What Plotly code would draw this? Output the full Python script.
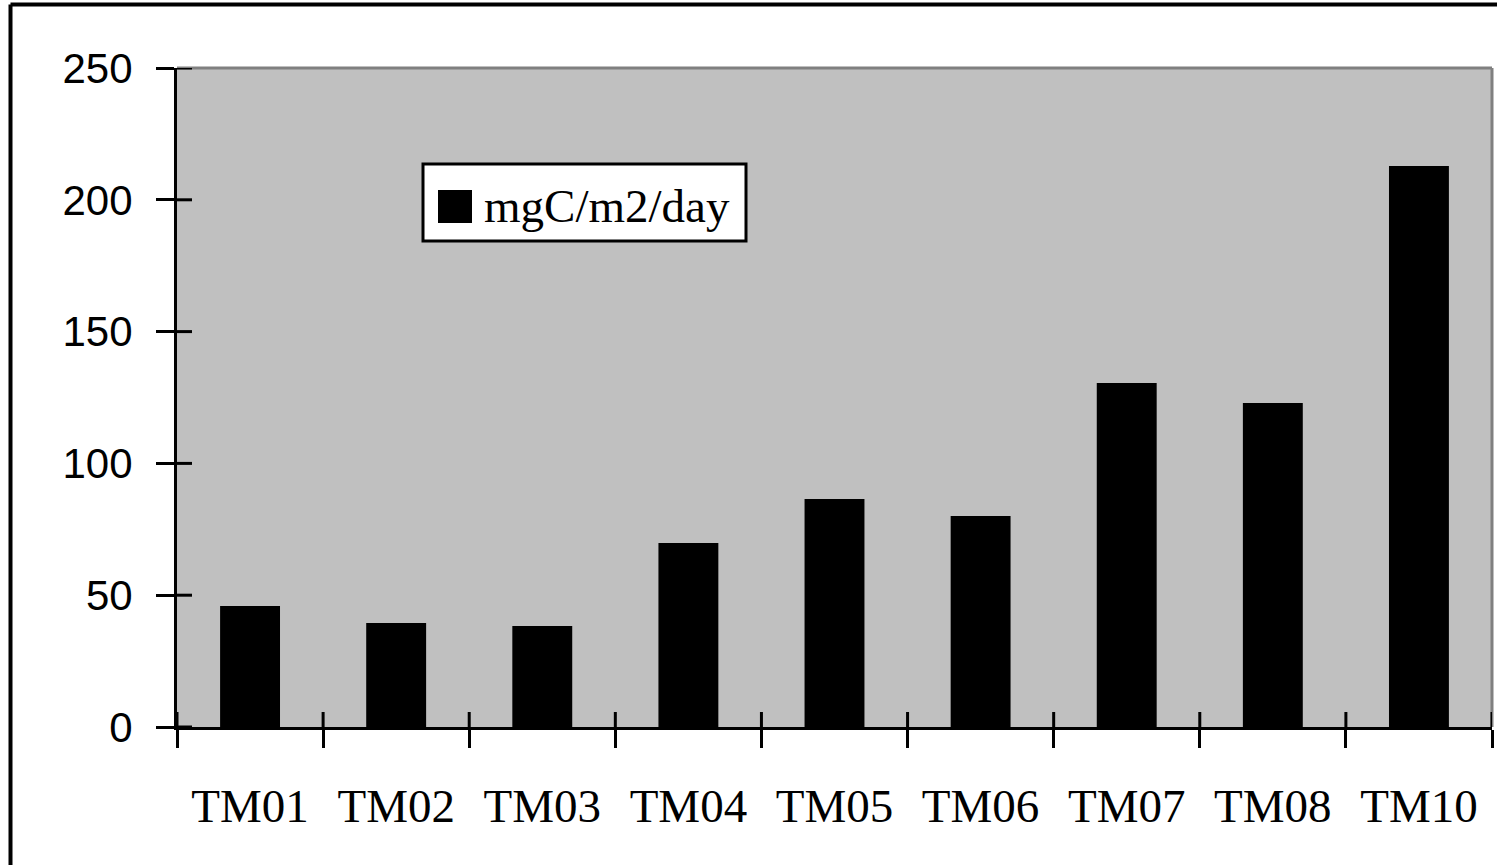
import plotly.graph_objects as go

# Station labels and daily production values
stations = ["TM01", "TM02", "TM03", "TM04", "TM05", "TM06", "TM07", "TM08", "TM10"]
production = [45.9, 39.5, 38.3, 69.8, 86.5, 80.0, 130.5, 122.9, 212.8]
series_name = "mgC/m2/day"
y_ticks = [0, 50, 100, 150, 200, 250]

W, H = 1497, 865
L, R, T, B = 177, 1492, 68, 727  # plot area in pixels
INNER_TICK = 15                  # length of the tick part inside the plot


def px(x):
    return (x - L) / (R - L)


def py(y):
    return (B - y) / (B - T)


fig = go.Figure()
fig.add_trace(go.Bar(
    x=stations, y=production, name=series_name,
    marker=dict(color="#000000", line=dict(width=0)),
    showlegend=False,
))

serif = "Liberation Serif, Times New Roman, serif"
sans = "Liberation Sans Narrow, Arial Narrow, Liberation Sans, sans-serif"

shapes = [
    # grey frame on top and right of the plot area
    dict(type="line", xref="paper", yref="paper", x0=0, x1=1, y0=1, y1=1,
         line=dict(color="#808080", width=3), layer="below"),
    dict(type="line", xref="paper", yref="paper", x0=1, x1=1, y0=0, y1=1,
         line=dict(color="#808080", width=3), layer="below"),
    # outer chart border
    dict(type="line", xref="paper", yref="paper", x0=px(10.5), x1=px(1600),
         y0=py(4.5), y1=py(4.5), line=dict(color="#000000", width=4)),
    dict(type="line", xref="paper", yref="paper", x0=px(10.5), x1=px(10.5),
         y0=py(4.5), y1=py(1000), line=dict(color="#000000", width=4)),
    # legend box and swatch
    dict(type="rect", xref="paper", yref="paper", x0=px(423), x1=px(746),
         y0=py(164), y1=py(241), fillcolor="#FFFFFF",
         line=dict(color="#000000", width=3)),
    dict(type="rect", xref="paper", yref="paper", x0=px(438), x1=px(472),
         y0=py(190), y1=py(223), fillcolor="#000000",
         line=dict(color="#000000", width=0)),
]

# inner half of the crossing ticks on both axes
for v in y_ticks:
    shapes.append(dict(type="line", xref="paper", yref="y",
                       x0=0, x1=px(L + INNER_TICK), y0=v, y1=v,
                       line=dict(color="#000000", width=3)))
for i in range(len(stations) + 1):
    shapes.append(dict(type="line", xref="x", yref="paper",
                       x0=i - 0.5, x1=i - 0.5, y0=0, y1=py(B - INNER_TICK),
                       line=dict(color="#000000", width=3)))

annotations = [
    dict(text=series_name, xref="paper", yref="paper", x=px(482), y=py(206),
         xanchor="left", yanchor="middle", showarrow=False,
         font=dict(family=serif, size=47, color="#000000")),
]

fig.update_layout(
    width=W, height=H,
    margin=dict(l=L, r=W - R, t=T, b=H - B, pad=0),
    paper_bgcolor="#FFFFFF",
    plot_bgcolor="#C0C0C0",
    bargap=0.59,
    shapes=shapes,
    annotations=annotations,
    xaxis=dict(
        type="category", tickson="boundaries",
        range=[-0.5, len(stations) - 0.5],
        ticks="outside", ticklen=18, tickwidth=3, tickcolor="#000000",
        showline=True, linewidth=3, linecolor="#000000",
        showgrid=False, zeroline=False,
        tickfont=dict(family=serif, size=47, color="#000000"),
        ticklabelstandoff=36,
    ),
    yaxis=dict(
        range=[0, 250], tickvals=y_ticks,
        ticks="outside", ticklen=18, tickwidth=3, tickcolor="#000000",
        showline=True, linewidth=3, linecolor="#000000",
        showgrid=False, zeroline=False,
        tickfont=dict(family=sans, size=42, color="#000000"),
        ticklabelstandoff=15,
    ),
)

fig.write_html("out.html")
